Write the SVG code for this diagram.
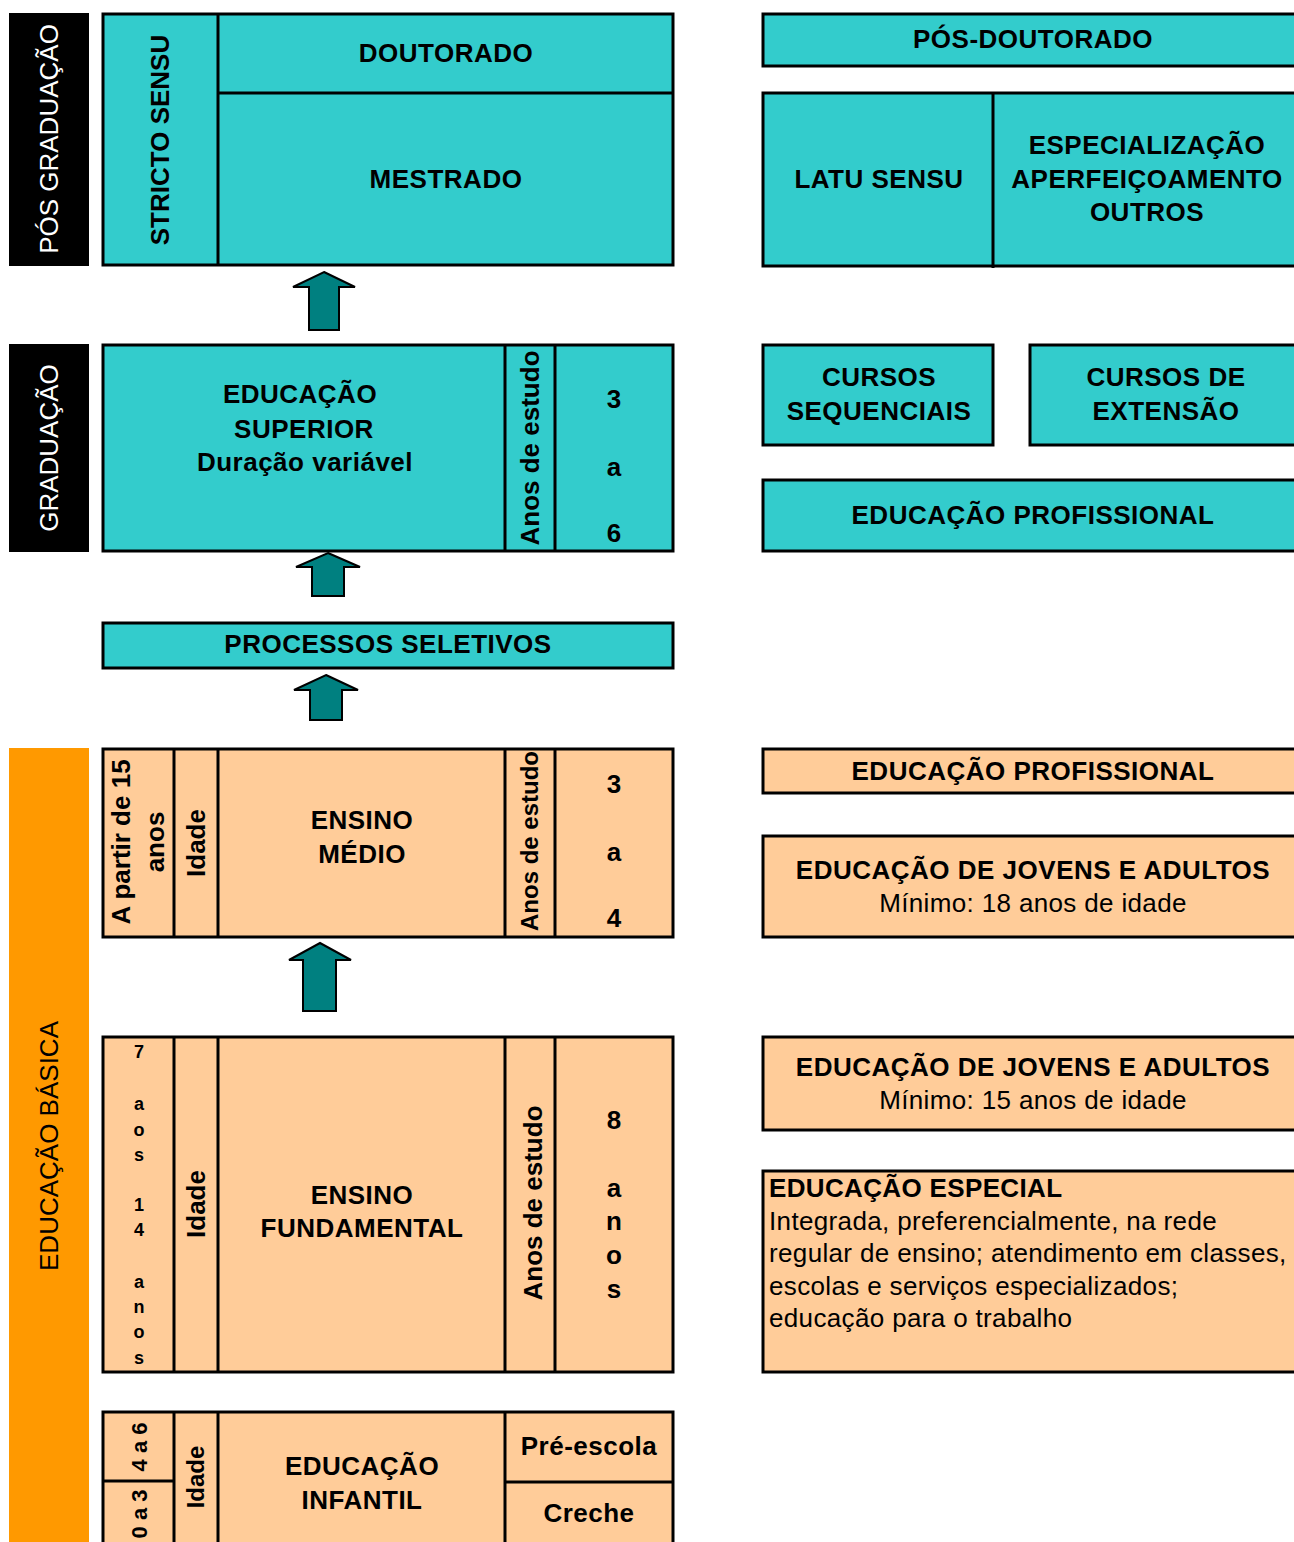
<svg xmlns="http://www.w3.org/2000/svg" width="1294" height="1542" viewBox="0 0 1294 1542">
<style>
.t{fill:#33CCCC;stroke:#000;stroke-width:3}
.o{fill:#FFCC99;stroke:#000;stroke-width:3}
.l{stroke:#000;stroke-width:3;fill:none}
.a{fill:#008080;stroke:#000;stroke-width:2}
text{font-family:"Liberation Sans",Arial,sans-serif;fill:#000}
.b{font-weight:bold;font-size:26px;text-anchor:middle}
.h{letter-spacing:0.5px}
.r{font-size:26px;text-anchor:middle}
.w{fill:#fff}
.s{font-weight:bold;font-size:18px;text-anchor:middle}
.p{font-size:26px;letter-spacing:0.35px}
</style>
<rect width="1294" height="1542" fill="#fff"/>
<g id="label-pos">
<rect x="9" y="13" width="80" height="253" fill="#000"/>
<text class="r w" transform="translate(58,139) rotate(-90)">PÓS GRADUAÇÃO</text>
</g>
<g id="label-grad">
<rect x="9" y="344" width="80" height="208" fill="#000"/>
<text class="r w" transform="translate(58,448) rotate(-90)">GRADUAÇÃO</text>
</g>
<g id="label-basica">
<rect x="9" y="748" width="80" height="800" fill="#FF9900"/>
<text class="r" transform="translate(58,1146) rotate(-90)">EDUCAÇÃO BÁSICA</text>
</g>
<g id="stricto">
<rect class="t" x="103" y="14" width="570" height="251"/>
<line class="l" x1="218" y1="14" x2="218" y2="265"/>
<line class="l" x1="218" y1="93" x2="673" y2="93"/>
<text class="b" transform="translate(169,140) rotate(-90)">STRICTO SENSU</text>
<text class="b h" x="446" y="62">DOUTORADO</text>
<text class="b h" x="446" y="188">MESTRADO</text>
</g>
<g id="superior">
<rect class="t" x="103" y="345" width="570" height="206"/>
<line class="l" x1="505" y1="345" x2="505" y2="551"/>
<line class="l" x1="555" y1="345" x2="555" y2="551"/>
<text class="b h" x="300" y="403">EDUCAÇÃO</text>
<text class="b h" x="304" y="438">SUPERIOR</text>
<text class="b h" x="305" y="471">Duração variável</text>
<text class="b" transform="translate(539,448) rotate(-90)">Anos de estudo</text>
<text class="b" x="614" y="408">3</text>
<text class="b" x="614" y="476">a</text>
<text class="b" x="614" y="542">6</text>
</g>
<g id="processos">
<rect class="t" x="103" y="623" width="570" height="45"/>
<text class="b h" x="388" y="653">PROCESSOS SELETIVOS</text>
</g>
<g id="medio">
<rect class="o" x="103" y="749" width="570" height="188"/>
<line class="l" x1="174" y1="749" x2="174" y2="937"/>
<line class="l" x1="218" y1="749" x2="218" y2="937"/>
<line class="l" x1="505" y1="749" x2="505" y2="937"/>
<line class="l" x1="555" y1="749" x2="555" y2="937"/>
<text class="b" transform="translate(130,842) rotate(-90)">A partir de 15</text>
<text class="b" transform="translate(164,842) rotate(-90)">anos</text>
<text class="b" transform="translate(205,843) rotate(-90)">Idade</text>
<text class="b h" x="362" y="829">ENSINO</text>
<text class="b h" x="362" y="863">MÉDIO</text>
<text class="b" style="font-size:24px" transform="translate(538,841) rotate(-90)">Anos de estudo</text>
<text class="b" x="614" y="793">3</text>
<text class="b" x="614" y="861">a</text>
<text class="b" x="614" y="927">4</text>
</g>
<g id="fundamental">
<rect class="o" x="103" y="1037" width="570" height="335"/>
<line class="l" x1="174" y1="1037" x2="174" y2="1372"/>
<line class="l" x1="218" y1="1037" x2="218" y2="1372"/>
<line class="l" x1="505" y1="1037" x2="505" y2="1372"/>
<line class="l" x1="555" y1="1037" x2="555" y2="1372"/>
<text class="s" x="139" y="1058">7</text>
<text class="s" x="139" y="1110">a</text>
<text class="s" x="139" y="1136">o</text>
<text class="s" x="139" y="1161">s</text>
<text class="s" x="139" y="1211">1</text>
<text class="s" x="139" y="1236">4</text>
<text class="s" x="139" y="1288">a</text>
<text class="s" x="139" y="1313">n</text>
<text class="s" x="139" y="1338">o</text>
<text class="s" x="139" y="1364">s</text>
<text class="b" transform="translate(205,1204) rotate(-90)">Idade</text>
<text class="b h" x="362" y="1204">ENSINO</text>
<text class="b h" x="362" y="1237">FUNDAMENTAL</text>
<text class="b" transform="translate(542,1203) rotate(-90)">Anos de estudo</text>
<text class="b" x="614" y="1129">8</text>
<text class="b" x="614" y="1197">a</text>
<text class="b" x="614" y="1230">n</text>
<text class="b" x="614" y="1264">o</text>
<text class="b" x="614" y="1298">s</text>
</g>
<g id="infantil">
<rect class="o" x="103" y="1412" width="570" height="140"/>
<line class="l" x1="174" y1="1412" x2="174" y2="1552"/>
<line class="l" x1="218" y1="1412" x2="218" y2="1552"/>
<line class="l" x1="505" y1="1412" x2="505" y2="1552"/>
<line class="l" x1="103" y1="1481" x2="174" y2="1481"/>
<line class="l" x1="505" y1="1482" x2="673" y2="1482"/>
<text class="b" style="font-size:22px" transform="translate(147,1447) rotate(-90)">4 a 6</text>
<text class="b" style="font-size:22px" transform="translate(147,1514) rotate(-90)">0 a 3</text>
<text class="b" style="font-size:24px" transform="translate(204,1477) rotate(-90)">Idade</text>
<text class="b h" x="362" y="1475">EDUCAÇÃO</text>
<text class="b h" x="362" y="1509">INFANTIL</text>
<text class="b h" x="589" y="1455">Pré-escola</text>
<text class="b h" x="589" y="1522">Creche</text>
</g>
<g id="pos-doutorado">
<rect class="t" x="763" y="14" width="550" height="52"/>
<text class="b h" x="1033" y="48">PÓS-DOUTORADO</text>
</g>
<g id="latu">
<rect class="t" x="763" y="93" width="550" height="173"/>
<line class="l" x1="993" y1="93" x2="993" y2="268"/>
<text class="b h" x="879" y="188">LATU SENSU</text>
<text class="b h" x="1147" y="154">ESPECIALIZAÇÃO</text>
<text class="b h" x="1147" y="188">APERFEIÇOAMENTO</text>
<text class="b h" x="1147" y="221">OUTROS</text>
</g>
<g id="sequenciais">
<rect class="t" x="763" y="345" width="230" height="100"/>
<text class="b h" x="879" y="386">CURSOS</text>
<text class="b h" x="879" y="420">SEQUENCIAIS</text>
</g>
<g id="extensao">
<rect class="t" x="1030" y="345" width="283" height="100"/>
<text class="b h" x="1166" y="386">CURSOS DE</text>
<text class="b h" x="1166" y="420">EXTENSÃO</text>
</g>
<g id="profissional-sup">
<rect class="t" x="763" y="480" width="550" height="71"/>
<text class="b h" x="1033" y="524">EDUCAÇÃO PROFISSIONAL</text>
</g>
<g id="profissional-bas">
<rect class="o" x="763" y="749" width="550" height="44"/>
<text class="b h" x="1033" y="780">EDUCAÇÃO PROFISSIONAL</text>
</g>
<g id="eja-medio">
<rect class="o" x="763" y="836" width="550" height="101"/>
<text class="b h" x="1033" y="879">EDUCAÇÃO DE JOVENS E ADULTOS</text>
<text class="r" style="letter-spacing:0.35px" x="1033" y="912">Mínimo: 18 anos de idade</text>
</g>
<g id="eja-fund">
<rect class="o" x="763" y="1037" width="550" height="93"/>
<text class="b h" x="1033" y="1076">EDUCAÇÃO DE JOVENS E ADULTOS</text>
<text class="r" style="letter-spacing:0.35px" x="1033" y="1109">Mínimo: 15 anos de idade</text>
</g>
<g id="especial">
<rect class="o" x="763" y="1171" width="550" height="201"/>
<text class="p" x="769" y="1197" font-weight="bold">EDUCAÇÃO ESPECIAL</text>
<text class="p" x="769" y="1230">Integrada, preferencialmente, na rede</text>
<text class="p" x="769" y="1262">regular de ensino; atendimento em classes,</text>
<text class="p" x="769" y="1295">escolas e serviços especializados;</text>
<text class="p" x="769" y="1327">educação para o trabalho</text>
</g>
<g id="connectors">
<polygon class="a" points="324,272 355,287 339,287 339,330 309,330 309,287 293,287"/>
<polygon class="a" points="328,553 360,567 344,567 344,596 312,596 312,567 296,567"/>
<polygon class="a" points="326,675 358,690 342,690 342,720 310,720 310,690 294,690"/>
<polygon class="a" points="320,943 351,960 336,960 336,1011 303,1011 303,960 289,960"/>
</g>
</svg>
